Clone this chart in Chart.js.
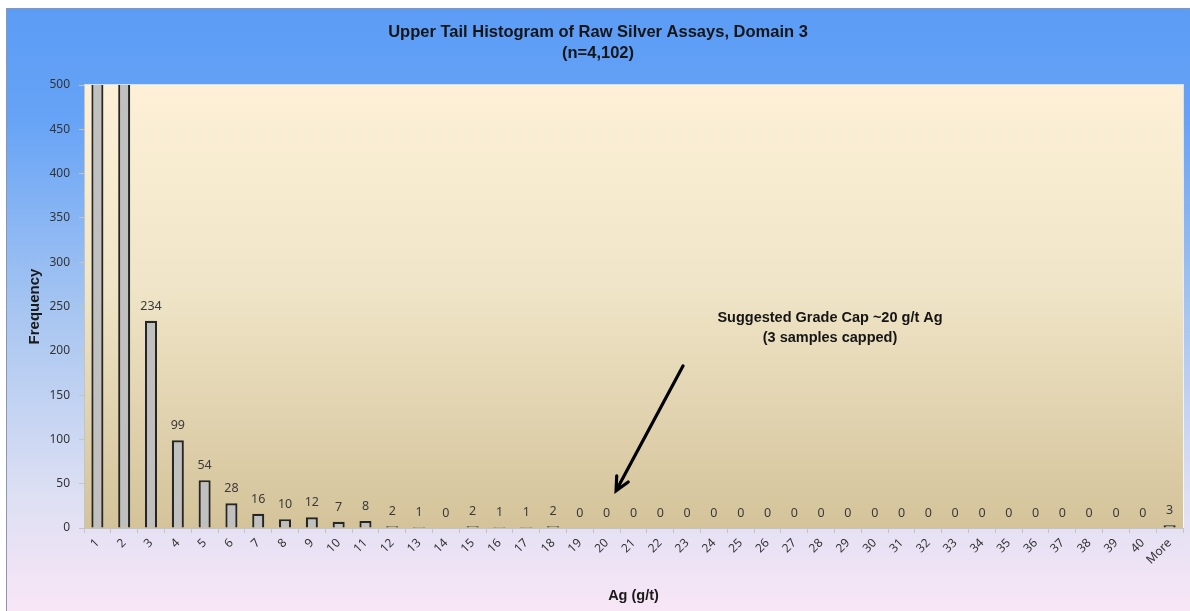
<!DOCTYPE html>
<html>
<head>
<meta charset="utf-8">
<script src="https://cdn.jsdelivr.net/npm/chart.js@4.4.1/dist/chart.umd.min.js"></script>
<style>
  html, body { margin: 0; padding: 0; background: #fff; }
  #wrap { width: 1190px; height: 611px; }
</style>
</head>
<body>
<div id="wrap"><canvas id="chart" width="1190" height="611"></canvas></div>
<script>
// bins (g/t Ag) and counts; bins 1 and 2 run off the top of the axis
const binLabels = ['1','2','3','4','5','6','7','8','9','10','11','12','13','14','15','16','17','18','19','20',
  '21','22','23','24','25','26','27','28','29','30','31','32','33','34','35','36','37','38','39','40','More'];
const frequencies = [2480, 1142, 234, 99, 54, 28, 16, 10, 12, 7, 8, 2, 1, 0, 2, 1, 1, 2, 0, 0,
  0, 0, 0, 0, 0, 0, 0, 0, 0, 0, 0, 0, 0, 0, 0, 0, 0, 0, 0, 0, 3];
const yMax = 500;
const yStep = 50;
const titleLines = ['Upper Tail Histogram of Raw Silver Assays, Domain 3', '(n=4,102)'];
const noteLines = ['Suggested Grade Cap ~20 g/t Ag', '(3 samples capped)'];
// arrow from / to, in (bin index, frequency)
const arrowFrom = [21.85, 183];
const arrowTo = [19.35, 42];

const backdrop = {
  id: 'backdrop',
  beforeDraw(chart) {
    const { ctx, chartArea: a } = chart;
    ctx.save();
    ctx.fillStyle = '#ffffff';
    ctx.fillRect(0, 0, chart.width, chart.height);
    const g = ctx.createLinearGradient(0, 8, 0, chart.height);
    g.addColorStop(0, '#5c9cf6');
    g.addColorStop(0.18, '#66a3f6');
    g.addColorStop(0.5, '#a6c5f1');
    g.addColorStop(0.8, '#dcdff3');
    g.addColorStop(1, '#f8e6f6');
    ctx.fillStyle = g;
    ctx.fillRect(6, 8, chart.width - 6, chart.height - 8);
    ctx.strokeStyle = '#8c98aa';
    ctx.lineWidth = 1;
    ctx.beginPath();
    ctx.moveTo(6, 8.5); ctx.lineTo(chart.width, 8.5);
    ctx.moveTo(6.5, 8); ctx.lineTo(6.5, chart.height);
    ctx.stroke();
    const p = ctx.createLinearGradient(0, a.top, 0, a.bottom);
    p.addColorStop(0, '#fdf0d7');
    p.addColorStop(0.45, '#f0e5c8');
    p.addColorStop(1, '#d4c39a');
    ctx.fillStyle = p;
    ctx.fillRect(a.left, a.top, a.right - a.left, a.bottom - a.top);
    ctx.strokeStyle = 'rgba(255,255,255,0.7)';
    ctx.strokeRect(a.left + 0.5, a.top - 0.5, a.right - a.left, a.bottom - a.top + 1);
    ctx.restore();
  }
};

const overlay = {
  id: 'overlay',
  afterDatasetsDraw(chart) {
    const { ctx } = chart;
    const xs = chart.scales.x, ys = chart.scales.y;
    const meta = chart.getDatasetMeta(0);
    ctx.save();
    // value labels
    ctx.font = '12.5px "Noto Sans", "Open Sans", sans-serif';
    ctx.fillStyle = '#3a3a3a';
    ctx.textAlign = 'center';
    ctx.textBaseline = 'middle';
    meta.data.forEach((bar, i) => {
      const v = frequencies[i];
      if (v > yMax) return;
      ctx.fillText(String(v), bar.x, bar.y - 14.5);
    });
    // title
    ctx.fillStyle = '#151515';
    ctx.font = 'bold 16.5px "Liberation Sans", Arial, sans-serif';
    ctx.fillText(titleLines[0], 598, 32);
    ctx.fillText(titleLines[1], 598, 53);
    // note
    ctx.font = 'bold 14.5px "Liberation Sans", Arial, sans-serif';
    ctx.fillText(noteLines[0], 830, 318);
    ctx.fillText(noteLines[1], 830, 338);
    // arrow
    const x1 = xs.getPixelForValue(arrowFrom[0]), y1 = ys.getPixelForValue(arrowFrom[1]);
    const x2 = xs.getPixelForValue(arrowTo[0]), y2 = ys.getPixelForValue(arrowTo[1]);
    const ang = Math.atan2(y2 - y1, x2 - x1);
    ctx.strokeStyle = '#000';
    ctx.lineWidth = 3.2;
    ctx.lineCap = 'round';
    ctx.beginPath();
    ctx.moveTo(x1, y1); ctx.lineTo(x2, y2);
    const h = 15, spread = 0.45;
    ctx.moveTo(x2 - h * Math.cos(ang - spread), y2 - h * Math.sin(ang - spread));
    ctx.lineTo(x2, y2);
    ctx.lineTo(x2 - h * Math.cos(ang + spread), y2 - h * Math.sin(ang + spread));
    ctx.stroke();
    ctx.restore();
  }
};

new Chart(document.getElementById('chart').getContext('2d'), {
  type: 'bar',
  data: {
    labels: binLabels,
    datasets: [{
      label: 'Frequency',
      data: frequencies,
      backgroundColor: '#c0c0c0',
      borderColor: '#262626',
      borderWidth: 2.2,
      barPercentage: 0.45,
      categoryPercentage: 1,
      clip: 0
    }]
  },
  options: {
    responsive: false,
    animation: false,
    devicePixelRatio: 1,
    layout: { padding: { left: 6, right: 7, top: 85, bottom: 0 } },
    plugins: {
      legend: { display: false },
      tooltip: { enabled: false },
      title: { display: false }
    },
    scales: {
      x: {
        afterFit(scale) { scale.height = 83; },
        grid: { drawOnChartArea: false, color: '#c4c4c4', tickLength: 5 },
        border: { color: '#c4c4c4' },
        ticks: {
          autoSkip: false, minRotation: 45, maxRotation: 45,
          color: '#333333', padding: 3,
          font: { family: '"Noto Sans", "Open Sans", sans-serif', size: 12 }
        },
        title: {
          display: true, text: 'Ag (g/t)', color: '#1a1a1a',
          font: { family: '"Liberation Sans", Arial, sans-serif', size: 14.5, weight: 'bold' },
          padding: { top: 0, bottom: 6 }
        }
      },
      y: {
        min: 0, max: yMax,
        afterFit(scale) { scale.width = 78; },
        grid: { drawOnChartArea: false, color: '#c4c4c4', tickLength: 5 },
        border: { color: '#c4c4c4' },
        ticks: {
          stepSize: yStep, color: '#333333', padding: 9,
          font: { family: '"Noto Sans", "Open Sans", sans-serif', size: 12 }
        },
        title: {
          display: true, text: 'Frequency', color: '#1a1a1a',
          font: { family: '"Liberation Sans", Arial, sans-serif', size: 15, weight: 'bold' },
          padding: { top: 20, bottom: 0 }
        }
      }
    }
  },
  plugins: [backdrop, overlay]
});
</script>
</body>
</html>
